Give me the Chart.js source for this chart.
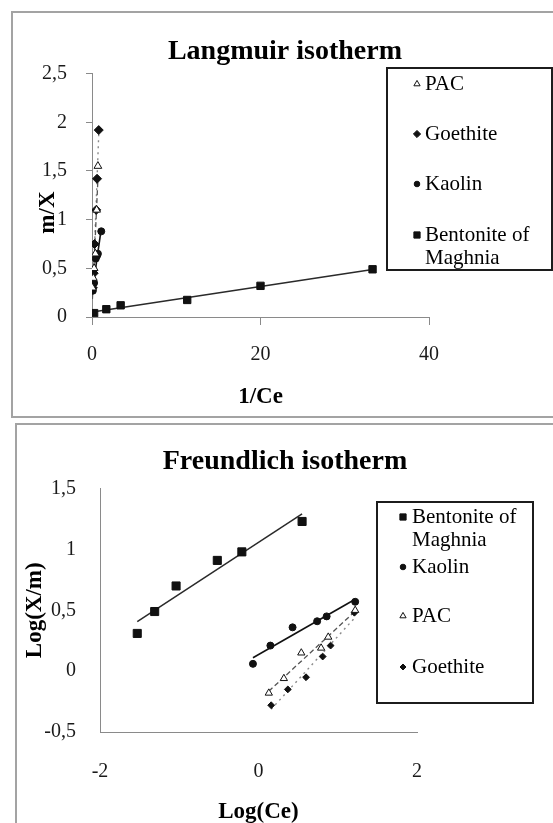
<!DOCTYPE html>
<html>
<head>
<meta charset="utf-8">
<title>Langmuir and Freundlich isotherms</title>
<script src="https://cdn.jsdelivr.net/npm/chart.js@4.4.1/dist/chart.umd.min.js"></script>
<style>
  html, body { margin: 0; padding: 0; background: #fff; }
  body { width: 553px; height: 823px; overflow: hidden; position: relative; }
  .frame { position: absolute; border: 2px solid #a3a3a3; box-sizing: border-box; }
  #frameTop { left: 11px; top: 11px; width: 600px; height: 407px; }
  #frameBottom { left: 15px; top: 423px; width: 600px; height: 460px; }
  canvas { position: absolute; left: 0; }
  #langmuir { top: 0; }
  #freundlich { top: 417px; }
</style>
</head>
<body>
<div class="frame" id="frameTop"></div>
<div class="frame" id="frameBottom"></div>
<canvas id="langmuir" width="553" height="417"></canvas>
<canvas id="freundlich" width="553" height="420"></canvas>
<script>
// Langmuir: m/X against 1/Ce
const langmuirBentoniteX = [0.25, 1.7, 3.4, 11.3, 20, 33.3];
const langmuirBentoniteY = [0.04, 0.08, 0.12, 0.175, 0.32, 0.49];
const langmuirKaolinX = [0.1, 0.25, 0.45, 0.6, 0.7, 1.1];
const langmuirKaolinY = [0.27, 0.35, 0.6, 0.63, 0.65, 0.88];
const langmuirPacX = [0.05, 0.15, 0.25, 0.4, 0.55, 0.7];
const langmuirPacY = [0.3, 0.4, 0.5, 0.65, 1.1, 1.55];
const langmuirGoethiteX = [0.1, 0.2, 0.3, 0.5, 0.6, 0.8];
const langmuirGoethiteY = [0.3, 0.45, 0.75, 1.1, 1.42, 1.92];

// Freundlich: Log(X/m) against Log(Ce)
const freundlichBentoniteX = [-1.53, -1.31, -1.04, -0.52, -0.21, 0.55];
const freundlichBentoniteY = [0.31, 0.49, 0.7, 0.91, 0.98, 1.23];
const freundlichKaolinX = [-0.07, 0.15, 0.43, 0.74, 0.86, 1.22];
const freundlichKaolinY = [0.06, 0.21, 0.36, 0.41, 0.45, 0.57];
const freundlichPacX = [0.13, 0.32, 0.54, 0.79, 0.88, 1.22];
const freundlichPacY = [-0.18, -0.06, 0.15, 0.19, 0.28, 0.5];
const freundlichGoethiteX = [0.16, 0.37, 0.6, 0.81, 0.91, 1.21];
const freundlichGoethiteY = [-0.28, -0.15, -0.05, 0.12, 0.21, 0.48];

const langmuirXTicks = [0, 20, 40];
const langmuirYTicks = [0, 0.5, 1, 1.5, 2, 2.5];
const freundlichXTicks = [-2, 0, 2];
const freundlichYTicks = [-0.5, 0, 0.5, 1, 1.5];

const langmuirLegendOrder = ["PAC", "Goethite", "Kaolin", "Bentonite of Maghnia"];
const freundlichLegendOrder = ["Bentonite of Maghnia", "Kaolin", "PAC", "Goethite"];

const FONT = '"Liberation Serif", "Times New Roman", serif';
Chart.defaults.font.family = FONT;
Chart.defaults.color = "#111";

// marker + trendline look for each adsorbent
const seriesStyle = {
  "Bentonite of Maghnia": { pointStyle: "rect", fill: "#111", line: "#2a2a2a", width: 1.5, dash: [] },
  "Kaolin": { pointStyle: "circle", fill: "#111", line: "#111", width: 1.6, dash: [] },
  "PAC": { pointStyle: "triangle", fill: "#fff", line: "#555", width: 1.3, dash: [5, 3] },
  "Goethite": { pointStyle: "rectRot", fill: "#111", line: "#8a8a8a", width: 1.4, dash: [2, 4] }
};

function decimalComma(v) {
  return String(v).replace(".", ",");
}

// least squares line over the range of the points
function fitLine(xs, ys) {
  const n = xs.length;
  const mx = xs.reduce((a, b) => a + b, 0) / n;
  const my = ys.reduce((a, b) => a + b, 0) / n;
  let sxy = 0, sxx = 0;
  for (let i = 0; i < n; i++) {
    sxy += (xs[i] - mx) * (ys[i] - my);
    sxx += (xs[i] - mx) * (xs[i] - mx);
  }
  const slope = sxy / sxx;
  const icpt = my - slope * mx;
  const lo = Math.min(...xs), hi = Math.max(...xs);
  return [{ x: lo, y: icpt + slope * lo }, { x: hi, y: icpt + slope * hi }];
}

function buildDatasets(series, radii) {
  const sets = [];
  series.forEach(s => {
    const st = seriesStyle[s.label];
    sets.push({
      label: s.label + " trend",
      data: fitLine(s.x, s.y),
      showLine: true,
      pointRadius: 0,
      borderColor: st.line,
      borderWidth: st.width,
      borderDash: st.dash,
      order: 2
    });
    sets.push({
      label: s.label,
      data: s.x.map((x, i) => ({ x: x, y: s.y[i] })),
      showLine: false,
      pointStyle: st.pointStyle,
      pointRadius: radii[s.label],
      pointBackgroundColor: st.fill,
      pointBorderColor: "#111",
      pointBorderWidth: 1,
      order: 1
    });
  });
  return sets;
}

// framed legend with marker-only entries, long names wrapped
const boxLegend = {
  id: "boxLegend",
  afterDraw(chart, args, opts) {
    const ctx = chart.ctx;
    ctx.save();
    ctx.strokeStyle = "#1c1c1c";
    ctx.lineWidth = 2;
    ctx.strokeRect(opts.left, opts.top, opts.right - opts.left, opts.bottom - opts.top);
    ctx.font = opts.fontSize + "px " + FONT;
    ctx.textBaseline = "middle";
    const maxW = opts.right - opts.textX - 4;
    opts.order.forEach((label, i) => {
      const ds = chart.data.datasets.find(d => d.label === label);
      const y = opts.rows[i];
      ctx.fillStyle = ds.pointBackgroundColor;
      ctx.strokeStyle = "#111";
      ctx.lineWidth = 1;
      ctx.setLineDash([]);
      Chart.helpers.drawPoint(ctx, { pointStyle: ds.pointStyle, radius: opts.markerRadius[label], rotation: 0, borderWidth: 1 }, opts.markerX, y);
      const lines = [];
      let line = "";
      label.split(" ").forEach(word => {
        const test = line ? line + " " + word : word;
        if (line && ctx.measureText(test).width > maxW) {
          lines.push(line);
          line = word;
        } else {
          line = test;
        }
      });
      lines.push(line);
      ctx.fillStyle = "#000";
      lines.forEach((t, k) => ctx.fillText(t, opts.textX, y + k * opts.lineGap));
    });
    ctx.restore();
  }
};

function axis(opts) {
  return {
    type: "linear",
    min: opts.ticks[0],
    max: opts.ticks[opts.ticks.length - 1],
    afterBuildTicks: s => { s.ticks = opts.ticks.map(v => ({ value: v })); },
    afterFit: s => {
      if (s.isHorizontal()) s.height = opts.size; else s.width = opts.size;
    },
    grid: { display: opts.tickLength > 0, drawOnChartArea: false, drawTicks: opts.tickLength > 0, tickLength: opts.tickLength, color: "#8a8a8a" },
    border: { display: true, color: "#8a8a8a", width: 1 },
    ticks: { padding: opts.pad, font: { size: 20 }, color: "#1a1a1a", callback: v => decimalComma(v) },
    title: { display: true, text: opts.title, color: "#000", font: { size: 23, weight: "bold" }, padding: opts.titlePad }
  };
}

// empty axis on the right that keeps room for the legend box
function legendGap(width) {
  return {
    type: "linear",
    axis: "y",
    position: "right",
    display: true,
    afterFit: s => { s.width = width; },
    grid: { display: false, drawTicks: false },
    border: { display: false },
    ticks: { display: false }
  };
}

new Chart(document.getElementById("langmuir"), {
  type: "scatter",
  data: {
    datasets: buildDatasets([
      { label: "PAC", x: langmuirPacX, y: langmuirPacY },
      { label: "Goethite", x: langmuirGoethiteX, y: langmuirGoethiteY },
      { label: "Kaolin", x: langmuirKaolinX, y: langmuirKaolinY },
      { label: "Bentonite of Maghnia", x: langmuirBentoniteX, y: langmuirBentoniteY }
    ], { "PAC": 4.5, "Goethite": 4.5, "Kaolin": 3.5, "Bentonite of Maghnia": 5.2 })
  },
  options: {
    responsive: false,
    animation: false,
    events: [],
    layout: { padding: { left: 17, right: 0, top: 0, bottom: 0 } },
    plugins: {
      legend: { display: false },
      tooltip: { enabled: false },
      title: { display: true, text: "Langmuir isotherm", color: "#000", font: { size: 28, weight: "bold" }, padding: { top: 35, bottom: 5 } },
      boxLegend: {
        left: 387, top: 68, right: 552, bottom: 270,
        markerX: 417, textX: 425, fontSize: 21, lineGap: 23,
        rows: [84, 134, 184, 235],
        order: langmuirLegendOrder,
        markerRadius: { "PAC": 3.6, "Goethite": 3.6, "Kaolin": 2.8, "Bentonite of Maghnia": 4.4 }
      }
    },
    scales: {
      x: axis({ ticks: langmuirXTicks, size: 100, tickLength: 8, pad: 18, title: "1/Ce", titlePad: { top: 0, bottom: 6 } }),
      y: axis({ ticks: langmuirYTicks, size: 75, tickLength: 6, pad: 19, title: "m/X      ", titlePad: { top: 17, bottom: 0 } }),
      gap: legendGap(124)
    }
  },
  plugins: [boxLegend]
});

new Chart(document.getElementById("freundlich"), {
  type: "scatter",
  data: {
    datasets: buildDatasets([
      { label: "Bentonite of Maghnia", x: freundlichBentoniteX, y: freundlichBentoniteY },
      { label: "Kaolin", x: freundlichKaolinX, y: freundlichKaolinY },
      { label: "PAC", x: freundlichPacX, y: freundlichPacY },
      { label: "Goethite", x: freundlichGoethiteX, y: freundlichGoethiteY }
    ], { "PAC": 4.2, "Goethite": 3.4, "Kaolin": 3.5, "Bentonite of Maghnia": 5.7 })
  },
  options: {
    responsive: false,
    animation: false,
    events: [],
    layout: { padding: { left: 17, right: 0, top: 0, bottom: 0 } },
    plugins: {
      legend: { display: false },
      tooltip: { enabled: false },
      title: { display: true, text: "Freundlich isotherm", color: "#000", font: { size: 28, weight: "bold" }, padding: { top: 28, bottom: 10 } },
      boxLegend: {
        left: 377, top: 85, right: 533, bottom: 286,
        markerX: 403, textX: 412, fontSize: 21, lineGap: 23,
        rows: [100, 150, 199, 250],
        order: freundlichLegendOrder,
        markerRadius: { "PAC": 3.6, "Goethite": 3.0, "Kaolin": 2.8, "Bentonite of Maghnia": 4.4 }
      }
    },
    scales: {
      x: axis({ ticks: freundlichXTicks, size: 105, tickLength: 0, pad: 28, title: "Log(Ce)", titlePad: { top: 0, bottom: 11 } }),
      y: axis({ ticks: freundlichYTicks, size: 83, tickLength: 0, pad: 24, title: "Log(X/m)", titlePad: { top: 4, bottom: 0 } }),
      gap: legendGap(136)
    }
  },
  plugins: [boxLegend]
});
</script>
</body>
</html>
